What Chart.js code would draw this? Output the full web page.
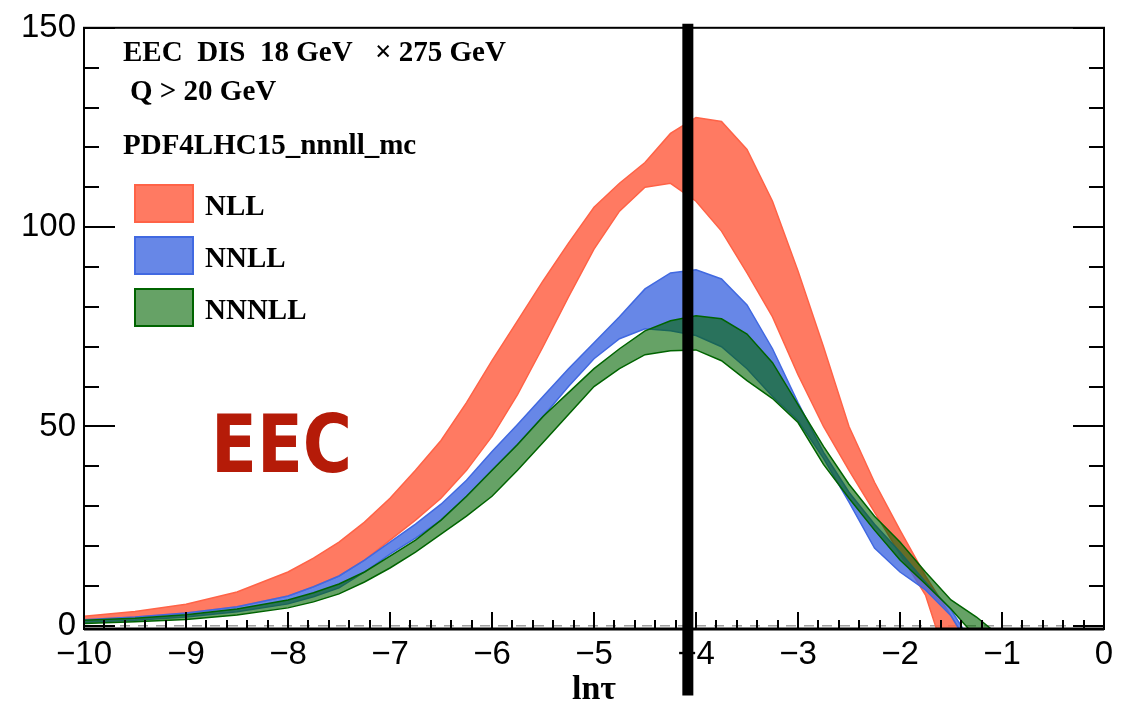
<!DOCTYPE html>
<html>
<head>
<meta charset="utf-8">
<script src="https://cdn.jsdelivr.net/npm/chart.js@4.4.1/dist/chart.umd.min.js"></script>
<style>
  html, body { margin: 0; padding: 0; background: #fff; }
  #wrap { width: 1126px; height: 707px; }
</style>
</head>
<body>
<div id="wrap"><canvas id="eecChart" width="1126" height="707"></canvas></div>
<script>
// ln(tau) grid shared by all bands
const lnTau = [-10, -9.5, -9, -8.5,
               -8, -7.75, -7.5, -7.25, -7, -6.75, -6.5, -6.25, -6, -5.75, -5.5, -5.25, -5,
               -4.75, -4.5, -4.25, -4, -3.75, -3.5, -3.25, -3, -2.75, -2.5, -2.25, -2,
               -1.75, -1.5, -1.25, -1];

// NLL band (upper / lower edge)
const nllUpper = [2.4, 3.6, 5.4, 8.5,
                  13.5, 17, 21, 26, 32, 39, 46.5, 56, 66.5, 76.5, 86.5, 96, 105,
                  111, 116.2, 123.5, 127.5, 126.5, 119.5, 106.5, 89, 70, 50, 36, 24,
                  12.5, 2.5, -8, -20];
const nllLower = [1.5, 2.2, 3.2, 4.8,
                  7.5, 9.8, 12.5, 16.5, 21.5, 26.5, 32, 39, 47.5, 58, 70, 82.5, 94.5,
                  104, 110, 111, 106.5, 99, 88.5, 77.5, 63, 50, 39, 28.5, 18,
                  7.7, -12, -30, -40];

// NNLL band
const nnllUpper = [1.5, 2.2, 3.2, 4.8,
                   7.5, 9.8, 12.5, 16.5, 21, 25.5, 30.5, 36.5, 43.7, 50.5, 57.5, 64.5, 71,
                   77.5, 84.5, 88.5, 89.3, 87, 80.5, 69.5, 56, 43.5, 33.5, 25.5, 18.5,
                   11, 4, -6, -15];
const nnllLower = [0.9, 1.4, 2.2, 3.5,
                   5.5, 7.3, 9.5, 13.5, 18, 22, 26.5, 32.5, 39, 45.5, 52.5, 60, 67,
                   72, 74.5, 74, 72.8, 70, 64.5, 57.5, 51.5, 42, 31, 19.5, 13.5,
                   9, 2.5, -8, -20];

// NNNLL band
const nnnllUpper = [1.4, 1.9, 2.8, 4.2,
                    6.5, 8.3, 10.5, 13.5, 17.5, 21.5, 26.5, 32.5, 39, 45.5, 52.5, 58.5, 64.5,
                    69.5, 74, 76.5, 77.8, 77, 73.2, 66, 55.5, 45, 35.5, 27.5, 21,
                    13.5, 6.5, 2.2, -3];
const nnnllLower = [0.6, 1.0, 1.6, 2.7,
                    4.5, 6, 8, 11, 14.5, 18.5, 23, 27.5, 32.5, 39, 46, 53, 60,
                    64.5, 68, 69, 69.2, 66.5, 61.5, 57, 51, 40.5, 32, 24, 16.5,
                    10.5, 4.2, -3, -8];

// axis ticks
const xTicks = [-10, -9, -8, -7, -6, -5, -4, -3, -2, -1, 0];
const yTicks = [0, 50, 100, 150];

// hand-drawn marker line at ln(tau) ~ -4.08
const markerX = -4.08;
const markerY = [-17.5, 151];

const bandNames = ["NLL", "NNLL", "NNNLL"];

function pts(ys) {
    return lnTau.map((x, i) => ({ x: x, y: ys[i] }));
}

function band(upper, lower, label, fillColor, lineColor, order) {
    return [
        { label: label, data: pts(upper), fill: "+1", backgroundColor: fillColor,
          borderColor: lineColor, borderWidth: 1.5, pointRadius: 0, tension: 0, order: order },
        { label: label + " low", data: pts(lower), fill: false, backgroundColor: fillColor,
          borderColor: lineColor, borderWidth: 1.5, pointRadius: 0, tension: 0, order: order }
    ];
}

const colors = {
    NLL:   { fill: "rgba(255,99,71,0.85)", line: "#ff6347" },
    NNLL:  { fill: "rgba(65,105,225,0.80)", line: "#4169e1" },
    NNNLL: { fill: "rgba(0,100,0,0.60)", line: "#006400" }
};

// white background
const whiteBg = {
    id: "whiteBg",
    beforeDraw(chart) {
        const ctx = chart.ctx;
        ctx.save();
        ctx.fillStyle = "#fff";
        ctx.fillRect(0, 0, chart.width, chart.height);
        ctx.restore();
    }
};

// ROOT style frame with ticks pointing inside
const rootFrame = {
    id: "rootFrame",
    afterDatasetsDraw(chart) {
        const { ctx, chartArea: a } = chart;
        const x = chart.scales.x, y = chart.scales.y;
        ctx.save();
        ctx.strokeStyle = "#000";
        ctx.lineWidth = 2;
        ctx.beginPath();
        for (let i = 0; i <= 50; i++) {
            const px = Math.round(x.getPixelForValue(-10 + i * 0.2));
            const len = i % 5 === 0 ? 17 : 9;
            ctx.moveTo(px, a.bottom);
            ctx.lineTo(px, a.bottom - len);
        }
        for (let v = 0; v <= 150; v += 10) {
            const py = Math.round(y.getPixelForValue(v));
            const len = v % 50 === 0 ? 31 : 15;
            ctx.moveTo(a.left, py);
            ctx.lineTo(a.left + len, py);
            ctx.moveTo(a.right, py);
            ctx.lineTo(a.right - len, py);
        }
        ctx.stroke();
        ctx.strokeRect(a.left, a.top, a.right - a.left, a.bottom - a.top);
        ctx.lineWidth = 3;
        ctx.beginPath();
        ctx.moveTo(a.left, a.bottom);
        ctx.lineTo(a.right, a.bottom);
        ctx.stroke();
        ctx.restore();
    }
};

// header text, legend and the red EEC label
const annotations = {
    id: "annotations",
    afterDraw(chart) {
        const ctx = chart.ctx;
        ctx.save();
        ctx.fillStyle = "#000";
        ctx.textBaseline = "alphabetic";
        ctx.font = "bold 29px 'Liberation Serif', 'Times New Roman', serif";
        ctx.fillText("EEC  DIS  18 GeV", 123, 61);
        ctx.fillText("\u00d7 275 GeV", 375, 61);
        ctx.fillText("Q > 20 GeV", 130, 100);
        ctx.fillText("PDF4LHC15_nnnll_mc", 123, 154);

        bandNames.forEach((name, i) => {
            const top = 185 + i * 52;
            ctx.fillStyle = colors[name].fill;
            ctx.fillRect(135, top, 58, 37);
            ctx.strokeStyle = colors[name].line;
            ctx.lineWidth = 2;
            ctx.strokeRect(135, top, 58, 37);
            ctx.fillStyle = "#000";
            ctx.fillText(name, 205, top + 30);
        });

        ctx.fillStyle = "#b51b08";
        ctx.font = "bold 80px 'DejaVu Sans', sans-serif";
        ctx.translate(211, 472);
        ctx.scale(0.84, 1);
        ctx.fillText("EEC", 0, 0);
        ctx.restore();
    }
};

const datasets = [
    ...band(nllUpper, nllLower, "NLL", colors.NLL.fill, colors.NLL.line, 30),
    ...band(nnllUpper, nnllLower, "NNLL", colors.NNLL.fill, colors.NNLL.line, 20),
    ...band(nnnllUpper, nnnllLower, "NNNLL", colors.NNNLL.fill, colors.NNNLL.line, 10),
    {
        label: "zero",
        data: [{ x: -10, y: 0 }, { x: 0, y: 0 }],
        borderColor: "#a0a0a0", borderWidth: 1.5, borderDash: [10, 8],
        pointRadius: 0, fill: false, order: 40
    },
    {
        label: "marker",
        data: markerY.map(v => ({ x: markerX, y: v })),
        borderColor: "#000", borderWidth: 11, borderCapStyle: "butt",
        pointRadius: 0, fill: false, clip: false, order: 0
    }
];

const ctx = document.getElementById("eecChart").getContext("2d");

new Chart(ctx, {
    type: "line",
    data: { datasets: datasets },
    plugins: [whiteBg, rootFrame, annotations],
    options: {
        responsive: false,
        animation: false,
        layout: { padding: { top: 22, right: 22, left: 0, bottom: 0 } },
        plugins: {
            legend: { display: false },
            tooltip: { enabled: false }
        },
        scales: {
            x: {
                type: "linear",
                min: -10,
                max: 0,
                afterBuildTicks: s => { s.ticks = xTicks.map(v => ({ value: v })); },
                afterFit: s => { s.height = 78; },
                grid: { display: false, drawTicks: false },
                border: { display: false },
                ticks: {
                    color: "#000",
                    padding: 6,
                    maxRotation: 0,
                    autoSkip: false,
                    font: { family: "'Liberation Sans', Arial, sans-serif", size: 33 },
                    callback: v => v < 0 ? "\u2212" + Math.abs(v) : String(v)
                },
                title: {
                    display: true,
                    text: "ln\u03c4",
                    color: "#000",
                    padding: { top: 0, bottom: 0 },
                    font: { family: "'Liberation Serif', 'Times New Roman', serif", size: 34, weight: "bold", lineHeight: 1.0 }
                }
            },
            y: {
                min: -0.8,
                max: 150,
                afterBuildTicks: s => { s.ticks = yTicks.map(v => ({ value: v })); },
                afterFit: s => { s.width = 84; },
                grid: { display: false, drawTicks: false },
                border: { display: false },
                ticks: {
                    color: "#000",
                    padding: 8,
                    font: { family: "'Liberation Sans', Arial, sans-serif", size: 33 }
                }
            }
        }
    }
});
</script>
</body>
</html>
